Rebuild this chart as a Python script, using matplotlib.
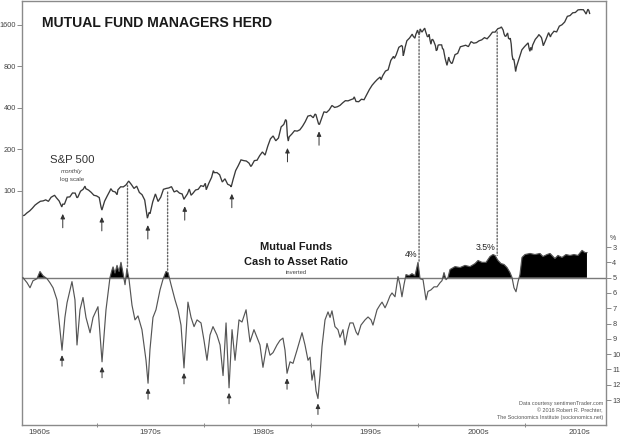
import numpy as np
import matplotlib
matplotlib.use("Agg")
import matplotlib.pyplot as plt
from matplotlib.patches import ConnectionPatch
from matplotlib.ticker import NullLocator, FixedLocator, NullFormatter

plt.rcParams["font.family"] = ["Liberation Sans", "DejaVu Sans"]

# ---------------------------------------------------------------- data
# S&P 500 month-end closes (selected months), "YYYY-MM"
sp_months = [
    "1963-01", "1963-03", "1963-06", "1963-09", "1963-12",
    "1964-03", "1964-06", "1964-09", "1964-12",
    "1965-03", "1965-06", "1965-09", "1965-12",
    "1966-01", "1966-03", "1966-06", "1966-09", "1966-10", "1966-12",
    "1967-03", "1967-06", "1967-09", "1967-12",
    "1968-02", "1968-03", "1968-06", "1968-09", "1968-11", "1968-12",
    "1969-03", "1969-06", "1969-09", "1969-12",
    "1970-03", "1970-05", "1970-06", "1970-09", "1970-12",
    "1971-03", "1971-04", "1971-06", "1971-09", "1971-11", "1971-12",
    "1972-03", "1972-06", "1972-09", "1972-12",
    "1973-03", "1973-06", "1973-09", "1973-12",
    "1974-03", "1974-06", "1974-09", "1974-11", "1974-12",
    "1975-03", "1975-06", "1975-09", "1975-12",
    "1976-03", "1976-06", "1976-09", "1976-12",
    "1977-03", "1977-06", "1977-09", "1977-12",
    "1978-02", "1978-03", "1978-06", "1978-08", "1978-10", "1978-12",
    "1979-03", "1979-06", "1979-09", "1979-12",
    "1980-02", "1980-03", "1980-06", "1980-09", "1980-11", "1980-12",
    "1981-03", "1981-06", "1981-09", "1981-12",
    "1982-03", "1982-06", "1982-07", "1982-09", "1982-12",
    "1983-03", "1983-06", "1983-09", "1983-12",
    "1984-03", "1984-05", "1984-06", "1984-09", "1984-12",
    "1985-03", "1985-06", "1985-09", "1985-12",
    "1986-03", "1986-06", "1986-09", "1986-12",
    "1987-03", "1987-06", "1987-08", "1987-09", "1987-10", "1987-11", "1987-12",
    "1988-03", "1988-06", "1988-09", "1988-12",
    "1989-03", "1989-06", "1989-09", "1989-12",
    "1990-03", "1990-05", "1990-06", "1990-09", "1990-10", "1990-12",
    "1991-03", "1991-06", "1991-09", "1991-12",
    "1992-03", "1992-06", "1992-09", "1992-12",
    "1993-03", "1993-06", "1993-09", "1993-12",
    "1994-01", "1994-03", "1994-06", "1994-09", "1994-12",
    "1995-03", "1995-06", "1995-09", "1995-12",
    "1996-03", "1996-06", "1996-07", "1996-09", "1996-12",
    "1997-03", "1997-06", "1997-09", "1997-10", "1997-12",
    "1998-03", "1998-06", "1998-07", "1998-08", "1998-09", "1998-10",
    "1998-11", "1998-12",
    "1999-03", "1999-06", "1999-07", "1999-09", "1999-10", "1999-12",
    "2000-01", "2000-02", "2000-03", "2000-04", "2000-05", "2000-06",
    "2000-08", "2000-09", "2000-11", "2000-12",
    "2001-01", "2001-02", "2001-03", "2001-04", "2001-05", "2001-06",
    "2001-08", "2001-09", "2001-10", "2001-11", "2001-12",
    "2002-03", "2002-04", "2002-05", "2002-06", "2002-07", "2002-09",
    "2002-11", "2002-12",
    "2003-02", "2003-03", "2003-06", "2003-09", "2003-12",
    "2004-03", "2004-06", "2004-09", "2004-12",
    "2005-03", "2005-06", "2005-09", "2005-12",
    "2006-03", "2006-06", "2006-09", "2006-12",
    "2007-03", "2007-06", "2007-09", "2007-10", "2007-12",
    "2008-01", "2008-02", "2008-03", "2008-05", "2008-06", "2008-07",
    "2008-08", "2008-09", "2008-10", "2008-11", "2008-12",
    "2009-01", "2009-02", "2009-03", "2009-06", "2009-09", "2009-12",
    "2010-03", "2010-04", "2010-05", "2010-06", "2010-07", "2010-08",
    "2010-09", "2010-12",
    "2011-03", "2011-04", "2011-06", "2011-07", "2011-08", "2011-09",
    "2011-12",
    "2012-03", "2012-05", "2012-06", "2012-09", "2012-12",
    "2013-03", "2013-06", "2013-09", "2013-12",
    "2014-03", "2014-06", "2014-09", "2014-12",
    "2015-03", "2015-06", "2015-08", "2015-09", "2015-11", "2015-12",
    "2016-01",
]
sp_close = [
    66.2, 66.6, 69.4, 71.7, 75.0,
    79.0, 81.7, 84.2, 84.75,
    86.2, 84.1, 90.0, 92.4,
    92.9, 89.2, 84.7, 76.6, 80.2, 80.3,
    90.2, 90.6, 96.7, 96.5,
    89.4, 90.2, 99.6, 102.9, 108.4, 103.9,
    101.5, 97.7, 93.1, 92.1,
    89.6, 76.6, 72.7, 84.3, 92.15,
    100.3, 103.95, 99.7, 98.3, 94.0, 102.1,
    107.2, 107.1, 110.6, 118.05,
    111.5, 104.3, 108.4, 97.55,
    94.0, 86.0, 63.5, 70.0, 68.56,
    83.4, 95.2, 83.9, 90.2,
    102.8, 104.3, 105.2, 107.5,
    98.4, 100.5, 96.5, 95.1,
    87.0, 89.2, 95.5, 103.3, 93.15, 96.1,
    101.6, 102.9, 109.3, 107.9,
    113.7, 102.1, 114.2, 125.5, 140.5, 135.8,
    136.0, 131.2, 116.2, 122.6,
    112.0, 109.6, 107.1, 120.4, 140.6,
    153.0, 168.1, 166.1, 164.9,
    159.2, 150.6, 153.2, 166.1, 167.2,
    180.7, 191.85, 182.1, 211.3,
    238.9, 250.8, 231.3, 242.2,
    291.7, 304.0, 329.8, 321.8, 251.8, 230.3, 247.1,
    258.9, 273.5, 271.9, 277.7,
    294.9, 318.0, 349.2, 353.4,
    339.9, 361.2, 358.0, 306.1, 304.0, 330.2,
    375.2, 371.2, 387.9, 417.1,
    403.7, 408.1, 417.8, 435.7,
    451.7, 450.5, 458.9, 466.5,
    481.6, 445.8, 444.3, 462.7, 459.3,
    500.7, 544.75, 584.4, 615.9,
    645.5, 670.6, 639.9, 687.3, 740.7,
    757.1, 885.1, 947.3, 914.6, 970.4,
    1101.8, 1133.8, 1120.7, 957.3, 1017.0, 1098.7,
    1163.6, 1229.2,
    1286.4, 1372.7, 1328.7, 1282.7, 1362.9, 1469.25,
    1394.5, 1366.4, 1498.6, 1452.4, 1420.6, 1454.6,
    1517.7, 1436.5, 1315.2, 1320.3,
    1366.0, 1239.9, 1160.3, 1249.5, 1255.8, 1224.4,
    1133.6, 1040.9, 1059.8, 1139.5, 1148.1,
    1147.4, 1076.9, 1067.1, 989.8, 911.6, 815.3,
    936.3, 879.8,
    841.2, 848.2, 974.5, 996.0, 1111.9,
    1126.2, 1140.8, 1114.6, 1211.9,
    1180.6, 1191.3, 1228.8, 1248.3,
    1294.9, 1270.2, 1335.8, 1418.3,
    1420.9, 1503.35, 1526.75, 1549.4, 1468.4,
    1378.6, 1330.6, 1322.7, 1400.4, 1280.0, 1267.4,
    1282.8, 1166.4, 968.75, 896.2, 903.25,
    825.9, 735.1, 797.9, 919.3, 1057.1, 1115.1,
    1169.4, 1186.7, 1089.4, 1030.7, 1101.6, 1049.3,
    1141.2, 1257.6,
    1325.8, 1363.6, 1320.6, 1292.3, 1218.9, 1131.4,
    1257.6,
    1408.5, 1310.3, 1362.2, 1440.7, 1426.2,
    1569.2, 1606.3, 1681.55, 1848.4,
    1872.3, 1960.2, 1972.3, 2058.9,
    2067.9, 2063.1, 1972.2, 1920.0, 2080.4, 2043.9,
    1940.2,
]

# Mutual fund cash-to-asset ratio (%), by decimal year
cash_years = [
    1963.08, 1963.46, 1963.74, 1964.02, 1964.39, 1964.67, 1964.95, 1965.33,
    1965.60, 1965.89, 1966.26, 1966.54, 1966.73, 1967.00, 1967.20, 1967.48,
    1967.66, 1967.94, 1968.13, 1968.41, 1968.69, 1968.97, 1969.35, 1969.63,
    1970.09, 1970.47, 1970.84, 1971.21, 1971.40, 1971.50, 1971.68, 1971.87,
    1972.06, 1972.24, 1972.43, 1972.62, 1972.80, 1972.99, 1973.27, 1973.55,
    1973.83, 1974.20, 1974.58, 1974.77, 1974.95, 1975.23, 1975.51, 1975.89,
    1976.17, 1976.45, 1976.64, 1976.92, 1977.29, 1977.57, 1977.85, 1978.13,
    1978.50, 1978.79, 1979.07, 1979.35, 1979.72, 1980.00, 1980.28, 1980.56,
    1980.84, 1981.21, 1981.50, 1981.78, 1982.06, 1982.34, 1982.62, 1982.90,
    1983.27, 1983.55, 1983.93, 1984.30, 1984.67, 1984.95, 1985.23, 1985.51,
    1985.89, 1986.17, 1986.45, 1986.82, 1987.10, 1987.38, 1987.57, 1987.76,
    1988.04, 1988.32, 1988.69, 1989.16, 1989.44, 1989.72, 1989.91, 1990.09,
    1990.28, 1990.47, 1990.65, 1990.84, 1991.03, 1991.31, 1991.59, 1991.78,
    1991.96, 1992.24, 1992.52, 1992.71, 1992.99, 1993.18, 1993.46, 1993.64,
    1993.93, 1994.21, 1994.39, 1994.67, 1995.05, 1995.33, 1995.61, 1995.79,
    1996.17, 1996.45, 1996.64, 1996.92, 1997.10, 1997.38, 1997.57, 1997.85,
    1998.13, 1998.32, 1998.50, 1998.69, 1998.88, 1999.16, 1999.44, 1999.72,
    1999.91, 2000.00, 2000.19, 2000.47, 2000.75, 2000.93, 2001.21, 2001.50,
    2001.78, 2002.06, 2002.24, 2002.43, 2002.62, 2002.80, 2002.99, 2003.46,
    2003.93, 2004.39, 2004.86, 2005.33, 2005.61, 2005.98, 2006.36, 2006.73,
    2007.01, 2007.20, 2007.48, 2007.76, 2008.04, 2008.32, 2008.60, 2008.79,
    2008.97, 2009.16, 2009.35, 2009.53, 2009.72, 2010.00, 2010.47, 2010.93,
    2011.40, 2011.68, 2012.06, 2012.34, 2012.80, 2013.08, 2013.46, 2013.83,
    2014.21, 2014.58, 2014.95, 2015.33, 2015.61, 2015.79,
]
cash_ratio = [
    5.0, 5.33, 5.66, 5.2, 5.07, 4.6, 4.87, 5.07,
    5.33, 5.66, 6.45, 8.4, 9.74, 7.6, 6.64, 5.8,
    5.26, 6.45, 9.4, 7.1, 6.3, 7.6, 8.6, 7.6,
    6.9, 10.5, 7.1, 5.0, 4.5, 4.3, 4.7, 4.2,
    4.6, 4.0, 4.7, 5.46, 4.4, 5.1, 6.8, 7.76,
    7.5, 8.4, 10.4, 11.9, 9.7, 7.6, 7.1, 5.8,
    5.1, 4.6, 4.67, 5.46, 6.45, 7.1, 8.1, 10.9,
    6.6, 7.6, 8.2, 7.76, 7.96, 9.1, 10.4, 8.75,
    8.2, 8.75, 9.4, 11.4, 7.96, 12.2, 8.4, 10.4,
    7.76, 7.9, 7.1, 9.2, 8.4, 8.9, 9.4, 10.86,
    9.3, 10.07, 9.9, 9.4, 9.1, 8.95, 9.74, 11.25,
    10.5, 10.6, 9.74, 8.6, 9.4, 10.4, 10.2, 11.7,
    11.05, 12.4, 12.9, 11.4, 9.5, 7.76, 7.24, 7.6,
    7.17, 8.2, 8.4, 8.9, 8.4, 9.4, 8.4, 7.96,
    7.96, 8.55, 8.75, 8.1, 7.76, 7.57, 7.76, 8.1,
    7.1, 6.78, 6.6, 6.97, 6.7, 6.2, 6.0, 6.25,
    4.93, 5.46, 6.25, 5.46, 4.8, 4.87, 4.74, 4.87,
    4.28, 4.0, 5.07, 5.13, 6.45, 5.9, 5.8, 5.6,
    5.6, 5.33, 5.2, 4.67, 5.13, 5.0, 4.47, 4.28,
    4.34, 4.2, 4.28, 4.08, 3.88, 4.0, 4.0, 3.62,
    3.49, 3.55, 3.88, 4.08, 4.14, 4.34, 4.67, 5.0,
    5.66, 5.92, 5.26, 4.8, 3.68, 3.49, 3.42, 3.49,
    3.42, 3.62, 3.49, 3.42, 3.75, 3.55, 3.68, 3.49,
    3.55, 3.49, 3.55, 3.22, 3.36, 3.36,
]

sp_ticks = [100, 200, 400, 800, 1600]
cash_ticks = [3, 4, 5, 6, 7, 8, 9, 10, 11, 12, 13]
decade_ticks = [1970, 1980, 1990, 2000, 2010]
decade_labels = ["1960s", "1970s", "1980s", "1990s", "2000s", "2010s"]
neutral_level = 5

# bottoms flagged with arrows, and tops joined by dotted lines
sp_low_years = [1966.8, 1970.45, 1974.75, 1978.2, 1982.6, 1987.8, 1990.75]
cash_low_years = [1966.73, 1970.47, 1974.77, 1978.13, 1982.34, 1987.76, 1990.65]
peak_years = [1972.85, 1976.6, 2000.1, 2007.4]
peak_labels = ["", "", "4%", "3.5%"]

# ---------------------------------------------------------------- helpers
sp_x = np.array([int(m[:4]) + (int(m[5:]) - 0.5) / 12 for m in sp_months])
sp_y = np.array(sp_close)
cx = np.array(cash_years)
cy = np.array(cash_ratio)


def local_extreme(xs, ys, year, fn, half=0.3):
    sel = np.abs(xs - year) <= half
    return fn(ys[sel])


# ---------------------------------------------------------------- figure
W, H = 620, 437
fig = plt.figure(figsize=(W / 100, H / 100), dpi=100)
fig.patch.set_facecolor("white")
rect = [22 / W, 1 - 425 / H, 584 / W, 424 / H]

ax = fig.add_axes(rect)
ax2 = fig.add_axes(rect, sharex=ax)
ax2.patch.set_visible(False)

frame_c = "#8a8a8a"

# S&P 500 panel (log scale)
ax.plot(sp_x, sp_y, color="#3a3a3a", lw=0.95, solid_joinstyle="miter")
ax.set_yscale("log")
ax.set_ylim(2.007, 2388)
ax.set_xlim(1962.99, 2017.57)
ax.yaxis.set_major_locator(FixedLocator(sp_ticks))
ax.yaxis.set_minor_locator(NullLocator())
ax.set_yticklabels([str(t) for t in sp_ticks])
ax.tick_params(axis="y", which="major", length=3.5, width=0.7, color=frame_c,
               labelsize=5.3, labelcolor="#444444", pad=1)

ax.xaxis.set_major_locator(FixedLocator(decade_ticks))
ax.xaxis.set_major_formatter(NullFormatter())
ax.xaxis.set_minor_locator(FixedLocator([1964.6, 1975.0, 1985.5, 1995.5, 2005.6, 2015.1]))
ax.set_xticklabels(decade_labels, minor=True)
ax.tick_params(axis="x", which="major", length=3, width=0.7, color=frame_c,
               direction="inout")
ax.tick_params(axis="x", which="minor", length=0, labelsize=5.8,
               labelcolor="#444444", pad=2.6)
for s in ax.spines.values():
    s.set_color(frame_c)
    s.set_linewidth(1.0)

# cash ratio panel (inverted)
ax2.set_ylim(14.63, -13.08)
ax2.yaxis.tick_right()
ax2.yaxis.set_major_locator(FixedLocator(cash_ticks))
ax2.yaxis.set_minor_locator(NullLocator())
ax2.tick_params(axis="y", length=3.5, width=0.7, color=frame_c,
                labelsize=5.3, labelcolor="#444444", pad=1)
ax2.xaxis.set_visible(False)
for s in ax2.spines.values():
    s.set_visible(False)

ax2.axhline(neutral_level, color="#7a7a7a", lw=1.0, zorder=2)
ax2.fill_between(cx, cy, neutral_level, where=cy < neutral_level,
                 interpolate=True, color="black", lw=0, zorder=3)
ax2.plot(cx, cy, color="#555555", lw=0.85, zorder=4)

# arrows under the market bottoms
arrow_kw = dict(arrowstyle="-|>,head_length=0.28,head_width=0.13",
                color="#333333", lw=0.7, shrinkA=0)
for yr in sp_low_years:
    low = local_extreme(sp_x, sp_y, yr, np.min)
    ax.annotate("", xy=(yr, low), xytext=(0, -15), textcoords="offset points",
                arrowprops=dict(arrow_kw, shrinkB=5))
for yr in cash_low_years:
    low = local_extreme(cx, cy, yr, np.max)
    ax2.annotate("", xy=(yr, low), xytext=(0, -11.5), textcoords="offset points",
                 arrowprops=dict(arrow_kw, shrinkB=3.6))

# dotted links from market tops to cash lows
for yr, lab in zip(peak_years, peak_labels):
    top = local_extreme(sp_x, sp_y, yr, np.max, 0.35)
    cash_top = local_extreme(cx, cy, yr, np.min, 0.3)
    con = ConnectionPatch(xyA=(yr, top), coordsA=ax.transData,
                          xyB=(yr, cash_top), coordsB=ax2.transData,
                          linestyle=(0, (1.0, 1.4)), color="#666666", lw=1.0,
                          shrinkA=3, shrinkB=0, zorder=5)
    fig.add_artist(con)
    if lab:
        ax2.annotate(lab, xy=(yr, cash_top), xytext=(-1, 2.5),
                     textcoords="offset points", ha="right", va="bottom",
                     fontsize=6.3, color="#222222")

# ---------------------------------------------------------------- text
def px(x, y):
    return x / W, 1 - y / H


fig.text(*px(42, 23), "MUTUAL FUND MANAGERS HERD", ha="left", va="center",
         fontsize=10.1, fontweight="bold", color="#1a1a1a")

fig.text(*px(72, 160), "S&P 500", ha="center", va="center", fontsize=8.2,
         color="#333333")
fig.text(*px(72, 172), "monthly", ha="center", va="center", fontsize=4.4,
         style="italic", color="#444444")
fig.text(*px(72, 180), "log scale", ha="center", va="center", fontsize=4.4,
         color="#444444")

fig.text(*px(296, 247), "Mutual Funds", ha="center", va="center",
         fontsize=7.9, fontweight="bold", color="#1a1a1a")
fig.text(*px(296, 262), "Cash to Asset Ratio", ha="center", va="center",
         fontsize=7.9, fontweight="bold", color="#1a1a1a")
fig.text(*px(296, 272), "inverted", ha="center", va="center", fontsize=4.2,
         color="#444444")

fig.text(*px(613, 238), "%", ha="center", va="center", fontsize=5,
         color="#444444")

credit = ["Data courtesy sentimenTrader.com",
          "\u00a9 2016 Robert R. Prechter,",
          "The Socionomics Institute (socionomics.net)"]
for i, line in enumerate(credit):
    fig.text(*px(603, 404 + 7 * i), line, ha="right", va="center",
             fontsize=3.9, color="#555555")

fig.savefig("out.png", dpi=100, facecolor="white")
